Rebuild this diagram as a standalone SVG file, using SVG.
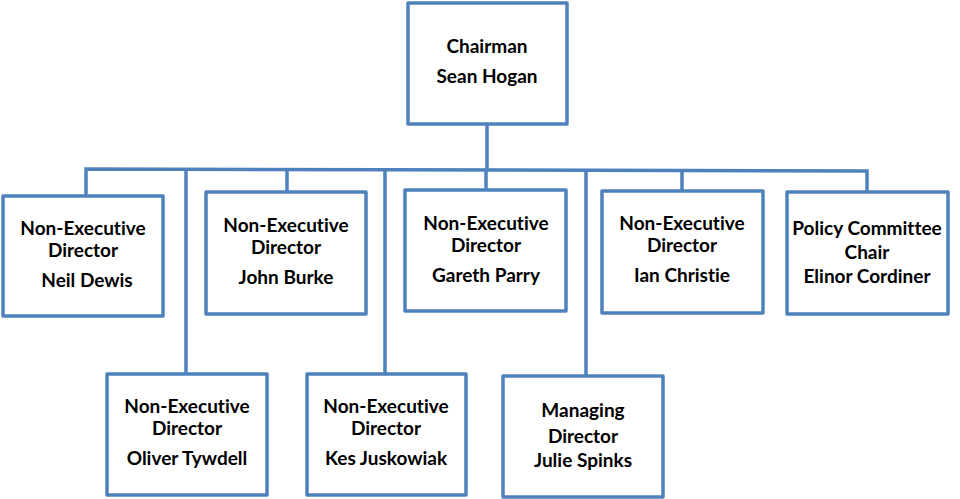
<svg xmlns="http://www.w3.org/2000/svg" width="960" height="499" viewBox="0 0 960 499">
<style>
.box{fill:#fff;stroke:#4F81BD;stroke-width:3.5;stroke-linejoin:round}
.ln{fill:none;stroke:#4F81BD;stroke-width:3.5}
text{font-family:Lato,"Liberation Sans",sans-serif;font-weight:bold;font-size:19px;fill:#000;text-anchor:middle;font-variant-ligatures:none;font-feature-settings:"liga" 0,"dlig" 0}
</style>
<rect width="960" height="499" fill="#fff"/>
<g id="connectors">
<line class="ln" x1="487" y1="124" x2="487" y2="170"/>
<polyline class="ln" points="86,196 86,169 867,171 867,192"/>
<line class="ln" x1="186" y1="169" x2="186" y2="374"/>
<line class="ln" x1="287" y1="169" x2="287" y2="192"/>
<line class="ln" x1="385" y1="170" x2="385" y2="374"/>
<line class="ln" x1="486" y1="170" x2="486" y2="190"/>
<line class="ln" x1="586" y1="170" x2="586" y2="376"/>
<line class="ln" x1="682" y1="171" x2="682" y2="191"/>
</g>
<g id="chairman">
<rect class="box" x="408" y="3" width="159" height="121"/>
<text x="487" y="53">Chairman</text>
<text x="487" y="83">Sean Hogan</text>
</g>
<g id="neil">
<rect class="box" x="3" y="196" width="160" height="120"/>
<text x="83" y="235">Non-Executive</text>
<text x="83" y="257">Director</text>
<text x="87" y="287">Neil Dewis</text>
</g>
<g id="john">
<rect class="box" x="206" y="192" width="160" height="122"/>
<text x="286" y="232">Non-Executive</text>
<text x="286" y="254">Director</text>
<text x="286" y="284">John Burke</text>
</g>
<g id="gareth">
<rect class="box" x="405" y="190" width="161" height="121"/>
<text x="486" y="230">Non-Executive</text>
<text x="486" y="252">Director</text>
<text x="486" y="282">Gareth Parry</text>
</g>
<g id="ian">
<rect class="box" x="602" y="191" width="161" height="122"/>
<text x="682" y="230">Non-Executive</text>
<text x="682" y="252">Director</text>
<text x="682" y="282">Ian Christie</text>
</g>
<g id="policy">
<rect class="box" x="787" y="192" width="161" height="122"/>
<text x="867" y="235">Policy Committee</text>
<text x="867" y="259">Chair</text>
<text x="867" y="283">Elinor Cordiner</text>
</g>
<g id="oliver">
<rect class="box" x="107" y="374" width="160" height="121"/>
<text x="187" y="413">Non-Executive</text>
<text x="187" y="435">Director</text>
<text x="187" y="465">Oliver Tywdell</text>
</g>
<g id="kes">
<rect class="box" x="307" y="374" width="159" height="121"/>
<text x="386" y="413">Non-Executive</text>
<text x="386" y="435">Director</text>
<text x="386" y="465">Kes Juskowiak</text>
</g>
<g id="julie">
<rect class="box" x="503" y="376" width="160" height="121"/>
<text x="583" y="417">Managing</text>
<text x="583" y="443">Director</text>
<text x="583" y="467">Julie Spinks</text>
</g>
</svg>
